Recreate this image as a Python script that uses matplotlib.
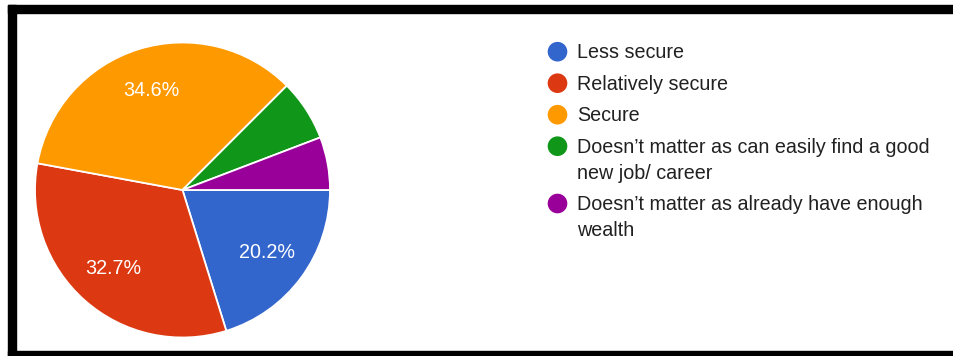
import matplotlib
matplotlib.use("Agg")
import matplotlib.pyplot as plt
from matplotlib.patches import Rectangle

plt.rcParams['font.family'] = ['Liberation Sans', 'DejaVu Sans']

# data
labels = ["Less secure", "Relatively secure", "Secure",
          "Doesn\u2019t matter as can easily find a good\nnew job/ career",
          "Doesn\u2019t matter as already have enough\nwealth"]
values = [20.2, 32.7, 34.6, 6.7, 5.8]
colors = ["#3366CC", "#DC3912", "#FF9900", "#109618", "#990099"]

W, H = 954, 356
fig = plt.figure(figsize=(W / 100, H / 100), dpi=100)
ax = fig.add_axes([0, 0, 1, 1])

# pie, in pixel-like coords (y up)
wedges, texts, autotexts = ax.pie(
    values, colors=colors, startangle=0, counterclock=False,
    center=(182.5, H - 190), radius=147.5,
    autopct=lambda p: f"{p:.1f}%" if p > 10 else "",
    pctdistance=0.71,
    wedgeprops=dict(edgecolor="white", linewidth=1.3),
    textprops=dict(color="white", fontsize=14.2))

# legend drawn by hand so the dot sits on the first line
y = 51.7
for lab, col in zip(labels, colors):
    ax.scatter([557.5], [H - y], s=200, color=col, edgecolors="none", zorder=3)
    for k, line in enumerate(lab.split("\n")):
        ax.text(577, H - y - 6.8 - 25.8 * k, line, fontsize=14.2, color="#212121",
                va="baseline", ha="left")
    y += 31.5 + 25.8 * lab.count("\n")

# black frame
for (x0, y0, w, h) in [(8, 5, W - 8, 8), (8, 5, 8.5, H - 5), (8, 351, W - 8, 5)]:
    ax.add_patch(Rectangle((x0, H - y0 - h), w, h, color="black", zorder=5))

ax.set_xlim(0, W)
ax.set_ylim(0, H)
ax.set_aspect("equal")
ax.axis("off")

fig.savefig("out.png", dpi=100)
